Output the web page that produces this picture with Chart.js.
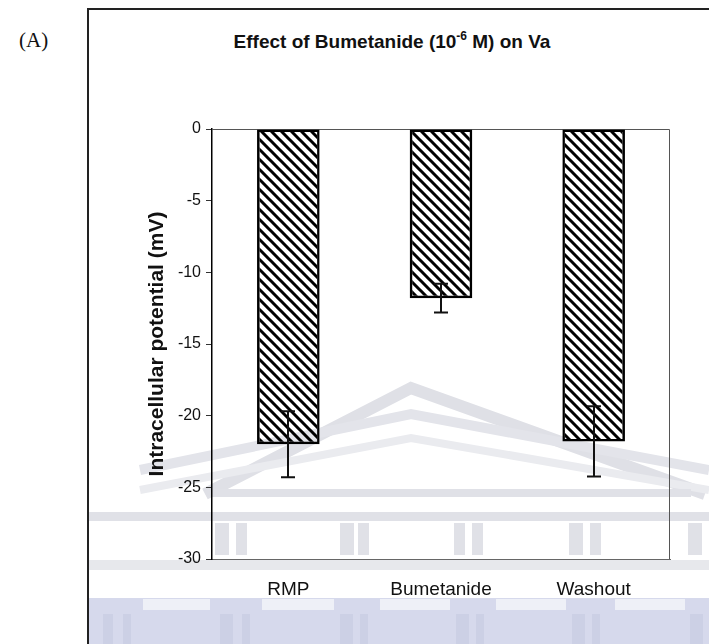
<!DOCTYPE html>
<html>
<head>
<meta charset="utf-8">
<script src="https://cdn.jsdelivr.net/npm/chart.js@4.4.1/dist/chart.umd.min.js"></script>
<style>
  body { margin: 0; background: #fff; }
  #wrap { position: relative; width: 709px; height: 644px; overflow: hidden; background: #fff; }
  #wm, #chart { position: absolute; left: 0; top: 0; }
  #frame { position: absolute; left: 87px; top: 8px; right: -5px; bottom: -5px;
           border-left: 2px solid #222; border-top: 2px solid #222; }
  #panel { position: absolute; left: 19px; top: 28px; font: 21px "Liberation Serif", "Times New Roman", serif; color: #111; }
  #title { position: absolute; left: 192px; width: 400px; top: 30px; text-align: center;
           font: bold 19px "Liberation Sans", Arial, sans-serif; color: #111; white-space: nowrap; line-height: 24px; }
  #title sup { font-size: 12px; line-height: 0; position: relative; top: -1px; }
</style>
</head>
<body>
<div id="wrap">
  <svg id="wm" width="709" height="644">
    <g fill="none" stroke="#dfe0e6" stroke-linejoin="miter">
      <polyline points="205,494 411,388 705,494" stroke-width="12"/>
      <polyline points="140,470 411,414 709,470" stroke-width="10" stroke="#e3e4ea"/>
      <polyline points="140,490 411,438 709,490" stroke-width="8" stroke="#eaebef"/>
    </g>
    <g fill="#e0e1e7">
      <rect x="211" y="489" width="480" height="8"/>
      <rect x="88" y="512" width="621" height="9"/>
      <rect x="215" y="523" width="14" height="32"/><rect x="236" y="523" width="11" height="32"/>
      <rect x="340" y="523" width="14" height="32"/><rect x="358" y="523" width="11" height="32"/>
      <rect x="454" y="523" width="11" height="32"/><rect x="472" y="523" width="11" height="32"/>
      <rect x="569" y="523" width="14" height="32"/><rect x="590" y="523" width="11" height="32"/>
      <rect x="688" y="523" width="14" height="32"/>
      <rect x="88" y="560" width="621" height="10" fill="#e7e8ec"/>
    </g>
    <g fill="#d6d9ec">
      <rect x="88" y="598" width="621" height="46"/>
    </g>
    <g fill="#eef0f7">
      <rect x="143" y="599" width="67" height="11"/><rect x="262" y="599" width="72" height="11"/>
      <rect x="380" y="599" width="70" height="11"/><rect x="496" y="599" width="70" height="11"/>
      <rect x="615" y="599" width="70" height="11"/>
    </g>
    <g fill="#ccd0e5">
      <rect x="103" y="614" width="10" height="30"/><rect x="123" y="614" width="8" height="30"/>
      <rect x="220" y="614" width="13" height="30"/><rect x="242" y="614" width="8" height="30"/>
      <rect x="340" y="614" width="13" height="30"/><rect x="360" y="614" width="8" height="30"/>
      <rect x="456" y="614" width="13" height="30"/><rect x="476" y="614" width="8" height="30"/>
      <rect x="572" y="614" width="13" height="30"/><rect x="592" y="614" width="8" height="30"/>
      <rect x="690" y="614" width="13" height="30"/>
    </g>
  </svg>
  <div id="frame"></div>
  <div id="panel">(A)</div>
  <div id="title">Effect of Bumetanide (10<sup>-6</sup> M) on Va</div>
  <canvas id="chart" width="709" height="644"></canvas>
</div>
<script>
const categories = ['RMP', 'Bumetanide', 'Washout'];
const meanValues = [-22.0, -11.8, -21.8];
const errorValues = [2.3, 1.0, 2.45];
const yMin = -30;
const yMax = 0;
const yStep = 5;

// diagonal hatch, lines running top-left to bottom-right
function makeHatch() {
  const c = document.createElement('canvas');
  c.width = 10; c.height = 10;
  const g = c.getContext('2d');
  g.strokeStyle = '#000';
  g.lineWidth = 3;
  g.beginPath();
  g.moveTo(-2, -2); g.lineTo(12, 12);
  g.moveTo(-2, 8); g.lineTo(2, 12);
  g.moveTo(8, -2); g.lineTo(12, 2);
  g.stroke();
  return g.createPattern(c, 'repeat');
}

const framePlugin = {
  id: 'frame',
  beforeDatasetsDraw(chart) {
    const { ctx, chartArea: a } = chart;
    ctx.save();
    ctx.strokeStyle = '#555';
    ctx.lineWidth = 1;
    ctx.beginPath();
    ctx.moveTo(a.left, a.top + 0.5);
    ctx.lineTo(a.right - 0.5, a.top + 0.5);
    ctx.lineTo(a.right - 0.5, a.bottom);
    ctx.stroke();
    ctx.restore();
  }
};

const errorBarPlugin = {
  id: 'errorBars',
  afterDatasetsDraw(chart) {
    const { ctx } = chart;
    const y = chart.scales.y;
    const meta = chart.getDatasetMeta(0);
    ctx.save();
    ctx.strokeStyle = '#111';
    ctx.lineWidth = 2;
    meta.data.forEach((bar, i) => {
      const v = meanValues[i], e = errorValues[i];
      const y1 = y.getPixelForValue(v + e);
      const y2 = y.getPixelForValue(v - e);
      const x = Math.round(bar.x);
      ctx.beginPath();
      ctx.moveTo(x, y1); ctx.lineTo(x, y2);
      ctx.moveTo(x - 7, y1); ctx.lineTo(x + 7, y1);
      ctx.moveTo(x - 7, y2); ctx.lineTo(x + 7, y2);
      ctx.stroke();
    });
    ctx.restore();
  }
};

new Chart(document.getElementById('chart'), {
  type: 'bar',
  data: {
    labels: categories,
    datasets: [{
      data: meanValues,
      backgroundColor: makeHatch(),
      borderColor: '#000',
      borderWidth: 2.5,
      borderSkipped: false,
      barPercentage: 0.41,
      categoryPercentage: 1
    }]
  },
  options: {
    responsive: false,
    animation: false,
    devicePixelRatio: 1,
    layout: { padding: { left: 145, top: 129, right: 39, bottom: 35 } },
    plugins: { legend: { display: false }, tooltip: { enabled: false } },
    scales: {
      x: {
        afterFit(scale) { scale.height = 50; },
        grid: { display: false, drawTicks: false },
        border: { display: true, color: '#666', width: 1 },
        ticks: { color: '#111', padding: 19, font: { family: 'Liberation Sans, Arial', size: 19 } }
      },
      y: {
        min: yMin,
        max: yMax,
        afterFit(scale) { scale.width = 67; },
        ticks: { stepSize: yStep, color: '#111', padding: 5, font: { family: 'Liberation Sans, Arial', size: 16 } },
        grid: { drawOnChartArea: false, drawTicks: true, tickLength: 6, color: '#333' },
        border: { display: true, color: '#000', width: 1.5 },
        title: {
          display: true,
          text: 'Intracellular potential (mV)',
          color: '#111',
          padding: { top: 0, bottom: 0 },
          font: { family: 'Liberation Sans, Arial', size: 21, weight: 'bold' }
        }
      }
    }
  },
  plugins: [framePlugin, errorBarPlugin]
});
</script>
</body>
</html>
